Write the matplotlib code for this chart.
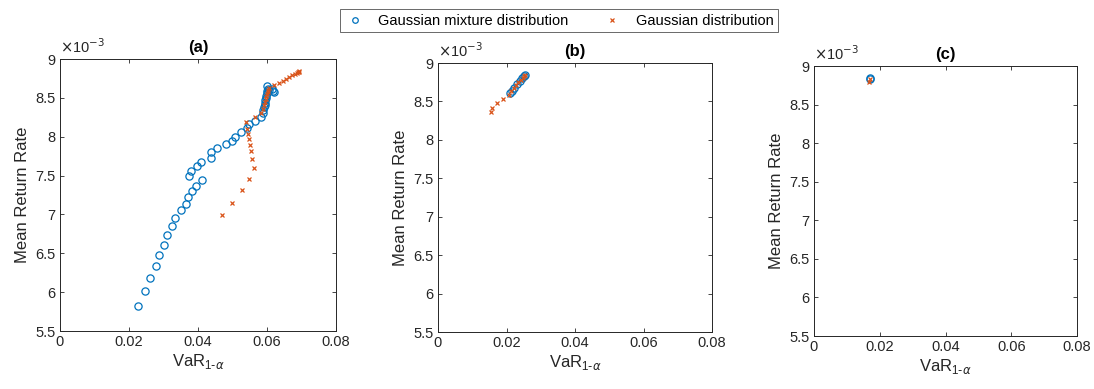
import matplotlib.pyplot as plt
from matplotlib.lines import Line2D

plt.rcParams["font.family"] = ["Liberation Sans", "DejaVu Sans"]

BLUE = "#0072BD"
RED = "#D95319"
AXC = "#262626"

# panel (a): VaR and mean return (x1e-3)
var_a_mix = [0.0227, 0.0247, 0.0262, 0.0279, 0.0288, 0.0302, 0.0310, 0.0326, 0.0334,
             0.0352, 0.0365, 0.0371, 0.0382, 0.0394, 0.0411,
             0.0374, 0.0380, 0.0397, 0.0410, 0.0439, 0.0438, 0.0455, 0.0480, 0.0499,
             0.0507, 0.0526, 0.0543, 0.0549, 0.0566, 0.0583,
             0.0587, 0.0589, 0.0591, 0.0593, 0.0594, 0.0595, 0.0597, 0.0598, 0.0599,
             0.0600, 0.0601, 0.0603, 0.0607, 0.0614, 0.0618, 0.0620]
ret_a_mix = [5.82, 6.01, 6.18, 6.34, 6.48, 6.61, 6.73, 6.85, 6.95,
             7.06, 7.14, 7.23, 7.30, 7.37, 7.44,
             7.50, 7.56, 7.62, 7.68, 7.73, 7.80, 7.85, 7.90, 7.95,
             8.00, 8.06, 8.11, 8.16, 8.20, 8.25,
             8.30, 8.34, 8.38, 8.41, 8.44, 8.47, 8.50, 8.53, 8.56,
             8.59, 8.65, 8.62, 8.60, 8.61, 8.59, 8.57]
var_a_gau = [0.0470, 0.0499, 0.0527, 0.0547, 0.0561, 0.0557, 0.0554, 0.0551, 0.0549,
             0.0546, 0.0543, 0.0538, 0.0565, 0.0584, 0.0588, 0.0591, 0.0594, 0.0596,
             0.0598, 0.0600, 0.0602, 0.0604, 0.0607, 0.0619, 0.0636, 0.0646, 0.0655,
             0.0665, 0.0673, 0.0681, 0.0688, 0.0690, 0.0692, 0.0693]
ret_a_gau = [6.99, 7.15, 7.31, 7.46, 7.60, 7.71, 7.81, 7.89, 7.97,
             8.03, 8.10, 8.19, 8.25, 8.31, 8.36, 8.41, 8.45, 8.49,
             8.52, 8.55, 8.58, 8.60, 8.63, 8.66, 8.69, 8.72, 8.74,
             8.77, 8.79, 8.81, 8.82, 8.83, 8.83, 8.84]

# panel (b)
var_b_mix = [0.0211, 0.0216, 0.0222, 0.0230, 0.0238, 0.0245, 0.0251, 0.0253]
ret_b_mix = [8.61, 8.64, 8.68, 8.73, 8.77, 8.81, 8.83, 8.84]
var_b_gau = [0.0156, 0.0159, 0.0173, 0.0190, 0.0207, 0.0214, 0.0221, 0.0228,
             0.0235, 0.0242, 0.0248, 0.0252, 0.0254]
ret_b_gau = [8.36, 8.41, 8.48, 8.53, 8.59, 8.63, 8.67, 8.71,
             8.75, 8.78, 8.81, 8.83, 8.84]

# panel (c)
var_c_mix = [0.0170, 0.0171]
ret_c_mix = [8.83, 8.84]
var_c_gau = [0.0168, 0.0170]
ret_c_gau = [8.79, 8.83]

xticks = [0, 0.02, 0.04, 0.06, 0.08]
xticklabels = ["0", "0.02", "0.04", "0.06", "0.08"]
yticks = [5.5, 6, 6.5, 7, 7.5, 8, 8.5, 9]
yticklabels = ["5.5", "6", "6.5", "7", "7.5", "8", "8.5", "9"]

W, H = 1094, 389
fig = plt.figure(figsize=(W / 100, H / 100), dpi=100)

# axes boxes in pixels: left, top, right, bottom
boxes = [(60, 59, 336, 331), (438, 63, 712, 332), (814, 66, 1077, 336)]
panels = [
    ("(a)", var_a_mix, ret_a_mix, var_a_gau, ret_a_gau),
    ("(b)", var_b_mix, ret_b_mix, var_b_gau, ret_b_gau),
    ("(c)", var_c_mix, ret_c_mix, var_c_gau, ret_c_gau),
]

for (l, t, r, b), (title, xm, ym, xg, yg) in zip(boxes, panels):
    ax = fig.add_axes([l / W, 1 - b / H, (r - l) / W, (b - t) / H])
    ax.plot(xm, ym, "o", ls="none", mfc="none", mec=BLUE, ms=5.2, mew=0.9)
    ax.plot(xg, yg, "x", ls="none", color=RED, ms=3.5, mew=0.9)
    ax.set_xlim(0, 0.08)
    ax.set_ylim(5.5, 9)
    ax.set_xticks(xticks)
    ax.set_xticklabels(xticklabels)
    ax.set_yticks(yticks)
    ax.set_yticklabels(yticklabels)
    ax.tick_params(direction="in", top=True, right=True, length=3, width=0.6,
                   colors=AXC, labelsize=10.5, labelcolor=AXC, pad=3)
    for s in ax.spines.values():
        s.set_color(AXC)
        s.set_linewidth(0.7)
    ax.set_xlabel(r"VaR$_{\mathregular{1\text{-}}\alpha}$", fontsize=12, color=AXC,
                  labelpad=2)
    ax.set_ylabel("Mean Return Rate", fontsize=12, color=AXC, labelpad=4)
    ax.set_title(title, fontsize=12, fontweight="bold", pad=5)
    ax.text(0.0, 1.01, r"$\times$10$^{-3}$", transform=ax.transAxes,
            fontsize=10.5, color=AXC, ha="left", va="bottom")

handles = [
    Line2D([], [], ls="none", marker="o", mfc="none", mec=BLUE, ms=4, mew=0.9),
    Line2D([], [], ls="none", marker="x", color=RED, ms=3, mew=0.9),
]
leg = fig.legend(handles, ["Gaussian mixture distribution", "Gaussian distribution"],
                 loc="upper center", bbox_to_anchor=(0.511, 0.995), ncol=2,
                 fontsize=10.5, frameon=True, fancybox=False, edgecolor=AXC,
                 handlelength=1.4, handletextpad=0.9, columnspacing=2.3,
                 borderpad=0.3)
leg.get_frame().set_linewidth(0.6)

fig.savefig("out.png", dpi=100)
